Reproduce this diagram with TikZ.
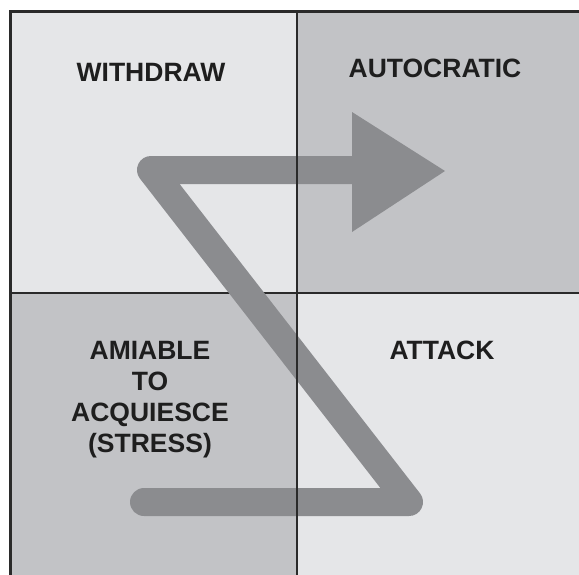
\documentclass[tikz,border=0pt]{standalone}
\usepackage{fontspec}
\setmainfont{Liberation Sans}
\definecolor{paleq}{HTML}{E5E6E8}
\definecolor{darkq}{HTML}{C2C3C6}
\definecolor{bandgray}{HTML}{8B8C8F}
\definecolor{inkgray}{HTML}{1E1E1E}
\definecolor{rulegray}{HTML}{2A2A2A}
\tikzset{
  quadlabel/.style={font=\fontsize{26.5}{31}\selectfont\bfseries, text=inkgray, align=center, inner sep=0pt},
  divider/.style={draw=rulegray, line width=1.8pt},
  frameline/.style={draw=rulegray, line width=3pt},
  band/.style={draw=bandgray, line width=28pt, line join=round},
}
\begin{document}
\begin{tikzpicture}[x=1pt,y=-1pt]
  \useasboundingbox (0,0) rectangle (579,574);
  % page background
  \fill[white] (0,0) rectangle (579,574);
  % the four quadrants
  \fill[paleq] (10,11) rectangle (297,293);
  \fill[darkq] (297,11) rectangle (585,293);
  \fill[darkq] (10,293) rectangle (297,580);
  \fill[paleq] (297,293) rectangle (585,580);
  % outer frame (top and left edges fall inside the page)
  \draw[frameline] (10,600) -- (10,11.5) -- (600,11.5);
  % horizontal divider lies beneath the band
  \draw[divider] (10,293) -- (590,293);
  % corner points of the Z-shaped band
  \coordinate (bstart) at (144,502);
  \coordinate (bright) at (409,502);
  \coordinate (tleft) at (151,170);
  \coordinate (abase) at (354,170);
  \coordinate (atop) at (352,112);
  \coordinate (abot) at (352,232);
  \coordinate (atip) at (445,171);
  \draw[band, line cap=round] (bstart) -- (bright) -- (tleft) -- (abase);
  \fill[bandgray] (atop) -- (abot) -- (atip) -- cycle;
  % vertical divider is drawn over the band
  \draw[divider] (297,11) -- (297,590);
  % quadrant labels
  \node[quadlabel] (withdraw) at (151,72) {WITHDRAW};
  \node[quadlabel] (autocratic) at (435,68) {AUTOCRATIC};
  \node[quadlabel] (attack) at (442,350) {ATTACK};
  \node[quadlabel] (amiable) at (150,399.5) {AMIABLE\\TO\\ACQUIESCE\\(STRESS)};
\end{tikzpicture}
\end{document}
